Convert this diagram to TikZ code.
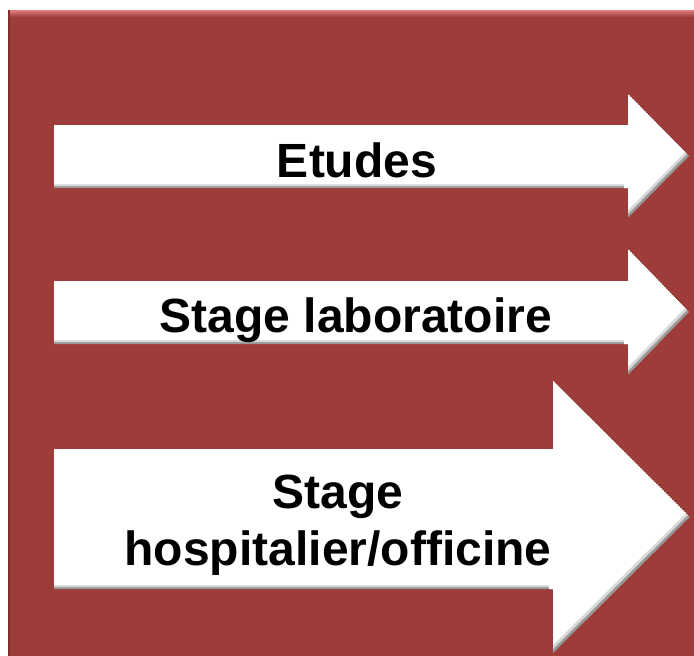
\documentclass[tikz,border=0pt]{standalone}
\usepackage{fontspec}
\setmainfont{Liberation Sans}
\usetikzlibrary{positioning}

\definecolor{panelred}{RGB}{158,60,58}
\definecolor{panellight}{RGB}{222,128,124}
\definecolor{paneldark}{RGB}{130,45,44}

\tikzset{
  arrowedge/.style={fill=black!40},
  arrowmid/.style={fill=black!15},
  arrowface/.style={fill=white},
  arrowlabel/.style={font=\fontsize{48}{57}\selectfont\bfseries, inner sep=0pt, align=center}
}

% x0, shaft top, shaft bottom, head x, head top, head bottom, tip x
\newcommand{\bevelarrow}[7]{%
  \begin{scope}
    \clip (#1,#2) -- (#4,#2) -- (#4,#5) -- (#7,{(#5+#6)/2}) -- (#4,#6) -- (#4,#3) -- (#1,#3) -- cycle;
    \fill[arrowedge] (#1,#2) -- (#4,#2) -- (#4,#5) -- (#7,{(#5+#6)/2}) -- (#4,#6) -- (#4,#3) -- (#1,#3) -- cycle;
    \fill[arrowmid, shift={(-2,-2)}] (#1,#2) -- (#4,#2) -- (#4,#5) -- (#7,{(#5+#6)/2}) -- (#4,#6) -- (#4,#3) -- (#1,#3) -- cycle;
    \fill[arrowface, shift={(-4,-4)}] (#1,#2) -- (#4,#2) -- (#4,#5) -- (#7,{(#5+#6)/2}) -- (#4,#6) -- (#4,#3) -- (#1,#3) -- cycle;
  \end{scope}}

\begin{document}
\begin{tikzpicture}[x=1pt, y=-1pt]
  \useasboundingbox[fill=white] (0,0) rectangle (694,656);
  % panel
  \fill[panelred] (8,10) rectangle (694,656);
  \shade[top color=panellight, bottom color=panelred] (8,10) rectangle (694,17);
  \fill[paneldark] (8,10) rectangle (10,656);

  % arrows
  \bevelarrow{54}{125}{188}{628}{94}{218}{689}
  \bevelarrow{54}{281}{344}{628}{249}{375}{689}
  \bevelarrow{54}{449}{589}{553}{381}{653}{690}

  % labels
  \node (etudes) [arrowlabel, anchor=base] at (357,177) {Etudes};
  \node (labo) [arrowlabel, anchor=base] at (356,332) {Stage laboratoire};
  \node (hosp) [arrowlabel, anchor=base] at (338,565) {Stage\\hospitalier/officine};
\end{tikzpicture}
\end{document}
